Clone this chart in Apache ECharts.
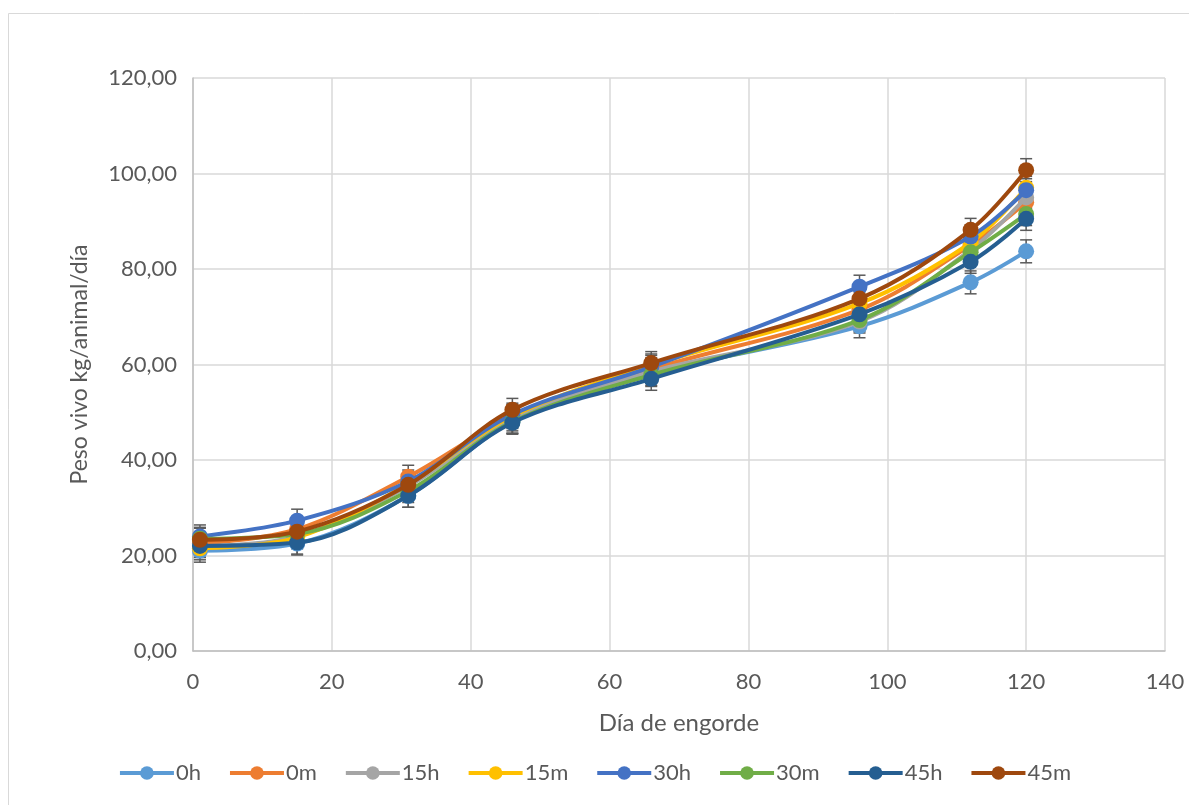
<!DOCTYPE html>
<html>
<head>
<meta charset="utf-8">
<script src="https://cdn.jsdelivr.net/npm/echarts@6/dist/echarts.min.js"></script>
<style>
html,body{margin:0;padding:0;background:#fff;}
#chart{width:1189px;height:805px;}
</style>
</head>
<body>
<div id="chart"></div>
<script>
var days = [1, 15, 31, 46, 66, 96, 112, 120];
var seriesNames = ['0h', '0m', '15h', '15m', '30h', '30m', '45h', '45m'];
var s0h  = [21.0, 22.5, 32.5, 48.0, 58.0, 68.0, 77.2, 83.7];
var s0m  = [22.5, 25.5, 36.5, 49.0, 59.0, 71.5, 85.0, 94.0];
var s15h = [22.0, 24.0, 34.5, 48.5, 58.5, 69.0, 84.0, 95.0];
var s15m = [21.5, 23.8, 35.0, 49.2, 59.8, 72.8, 85.5, 97.0];
var s30h = [24.0, 27.3, 35.5, 49.5, 59.5, 76.3, 86.8, 96.5];
var s30m = [23.5, 24.5, 33.5, 48.0, 57.8, 69.3, 83.5, 91.5];
var s45h = [22.0, 22.7, 32.5, 47.8, 57.0, 70.5, 81.5, 90.5];
var s45m = [23.3, 25.0, 34.8, 50.5, 60.3, 73.8, 88.2, 100.7];
var errorMargin = [2.4, 2.4, 2.4, 2.4, 2.4, 2.4, 2.4, 2.4];
var colors = ['#5B9BD5', '#ED7D31', '#A5A5A5', '#FFC000', '#4472C4', '#70AD47', '#255E91', '#9E480E'];

var allValues = [s0h, s0m, s15h, s15m, s30h, s30m, s45h, s45m];
var FONT = 'Lato';
var TXT = '#595959';

var series = [];
allValues.forEach(function (vals, i) {
  var errData = days.map(function (d, k) { return [d, vals[k] - errorMargin[k], vals[k] + errorMargin[k]]; });
  series.push({
    type: 'custom',
    name: seriesNames[i] + '_err',
    z: 1,
    silent: true,
    data: errData,
    renderItem: function (params, api) {
      var x = api.value(0);
      var lo = api.coord([x, api.value(1)]);
      var hi = api.coord([x, api.value(2)]);
      var w = 6;
      var st = { stroke: '#5a5a5a', lineWidth: 1.5 };
      return {
        type: 'group',
        children: [
          { type: 'line', shape: { x1: lo[0], y1: lo[1], x2: hi[0], y2: hi[1] }, style: st },
          { type: 'line', shape: { x1: lo[0] - w, y1: lo[1], x2: lo[0] + w, y2: lo[1] }, style: st },
          { type: 'line', shape: { x1: hi[0] - w, y1: hi[1], x2: hi[0] + w, y2: hi[1] }, style: st }
        ]
      };
    }
  });
});
allValues.forEach(function (vals, i) {
  series.push({
    type: 'line',
    name: seriesNames[i],
    z: 2 + i,
    smooth: 0.35,
    data: days.map(function (d, k) { return [d, vals[k]]; }),
    symbol: 'circle',
    symbolSize: 16,
    showAllSymbol: true,
    lineStyle: { width: 4, color: colors[i] },
    itemStyle: { color: colors[i] },
    emphasis: { disabled: true }
  });
});

var chart = echarts.init(document.getElementById('chart'));
chart.setOption({
  animation: false,
  backgroundColor: '#fff',
  graphic: [{
    type: 'rect',
    shape: { x: 8.5, y: 13.5, width: 1200, height: 820 },
    style: { fill: 'none', stroke: '#D9D9D9', lineWidth: 1 },
    z: -1
  }],
  grid: { left: 193, right: 24, top: 78, bottom: 154 },
  legend: {
    data: seriesNames,
    bottom: 16,
    left: 'center',
    itemWidth: 54,
    itemHeight: 17,
    itemGap: 27,
    lineStyle: { width: 4 },
    textStyle: { fontFamily: FONT, fontSize: 22, color: TXT, padding: [0, 0, 0, -3] }
  },
  xAxis: {
    type: 'value',
    min: 0, max: 140, interval: 20,
    name: 'Día de engorde',
    nameLocation: 'middle',
    nameGap: 60,
    nameTextStyle: { fontFamily: FONT, fontSize: 24, color: TXT },
    axisLine: { lineStyle: { color: '#BFBFBF', width: 1.5 } },
    axisTick: { show: false },
    axisLabel: { fontFamily: FONT, fontSize: 22, color: TXT, margin: 20 },
    splitLine: { show: true, lineStyle: { color: '#D9D9D9', width: 1.5 } }
  },
  yAxis: {
    type: 'value',
    min: 0, max: 120, interval: 20,
    name: 'Peso vivo kg/animal/día',
    nameLocation: 'middle',
    nameGap: 102,
    nameTextStyle: { fontFamily: FONT, fontSize: 23, color: TXT },
    axisLine: { show: true, lineStyle: { color: '#BFBFBF', width: 1.5 } },
    axisTick: { show: false },
    axisLabel: {
      fontFamily: FONT, fontSize: 22, color: TXT, margin: 16,
      formatter: function (v) { return v.toFixed(2).replace('.', ','); }
    },
    splitLine: { show: true, lineStyle: { color: '#D9D9D9', width: 1.5 } }
  },
  series: series
});
</script>
</body>
</html>
